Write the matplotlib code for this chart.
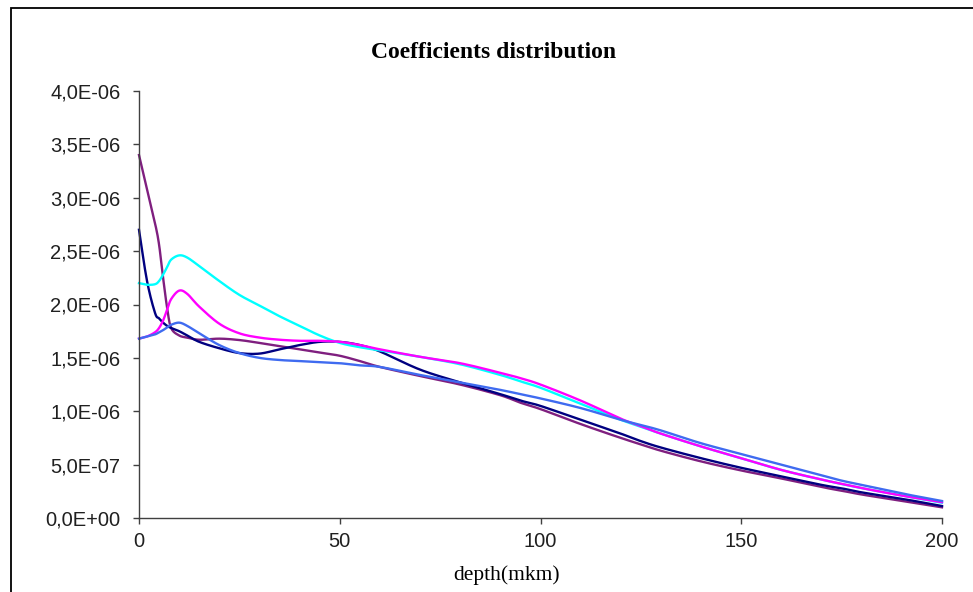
import numpy as np
import matplotlib
matplotlib.use("Agg")
import matplotlib.pyplot as plt
from matplotlib.patches import Rectangle

# depth (mkm) and coefficient values (x1e-6)
depth = [0, 2, 4, 5, 6, 7, 8, 10, 12, 15, 20, 25, 30, 35, 40, 45, 50, 55, 60, 70, 80,
         90, 95, 100, 110, 120, 125, 130, 140, 150, 160, 170, 175, 180, 190, 200]

purple = [3.40, 3.08, 2.76, 2.56, 2.25, 1.97, 1.78, 1.71, 1.69, 1.67, 1.68, 1.667,
          1.64, 1.61, 1.58, 1.55, 1.52, 1.47, 1.415, 1.33, 1.25, 1.15, 1.08, 1.02,
          0.88, 0.75, 0.69, 0.63, 0.53, 0.445, 0.37, 0.29, 0.256, 0.22, 0.16, 0.10]
navy = [2.70, 2.22, 1.92, 1.87, 1.83, 1.80, 1.78, 1.75, 1.71, 1.65, 1.59, 1.545,
        1.54, 1.58, 1.62, 1.65, 1.65, 1.62, 1.56, 1.39, 1.27, 1.16, 1.10, 1.05,
        0.92, 0.79, 0.72, 0.66, 0.56, 0.47, 0.39, 0.31, 0.278, 0.24, 0.18, 0.112]
cyan = [2.20, 2.185, 2.19, 2.22, 2.28, 2.35, 2.42, 2.46, 2.44, 2.36, 2.22, 2.09,
        1.99, 1.89, 1.80, 1.71, 1.64, 1.60, 1.57, 1.51, 1.44, 1.34, 1.28, 1.22,
        1.07, 0.92, 0.855, 0.79, 0.67, 0.56, 0.45, 0.36, 0.318, 0.28, 0.21, 0.143]
magenta = [1.68, 1.70, 1.74, 1.78, 1.85, 1.95, 2.05, 2.13, 2.10, 1.98, 1.82, 1.73,
           1.69, 1.67, 1.66, 1.66, 1.65, 1.62, 1.58, 1.51, 1.45, 1.36, 1.31, 1.25,
           1.10, 0.93, 0.86, 0.79, 0.67, 0.56, 0.45, 0.36, 0.32, 0.28, 0.21, 0.148]
blue = [1.68, 1.70, 1.72, 1.74, 1.76, 1.785, 1.81, 1.83, 1.80, 1.73, 1.62, 1.545,
        1.50, 1.48, 1.47, 1.46, 1.45, 1.43, 1.415, 1.34, 1.27, 1.20, 1.16, 1.12,
        1.03, 0.92, 0.871, 0.82, 0.70, 0.60, 0.50, 0.40, 0.35, 0.31, 0.23, 0.159]

series = [(purple, "#7F1F7F"), (navy, "#000080"), (cyan, "#00FFFF"),
          (magenta, "#FF00FF"), (blue, "#3F6BF0")]

yticks = np.arange(0, 4.01e-6, 0.5e-6)
ytick_labels = ["0,0E+00", "5,0E-07", "1,0E-06", "1,5E-06", "2,0E-06",
                "2,5E-06", "3,0E-06", "3,5E-06", "4,0E-06"]


def smooth(xs, ys, n=12):
    # Catmull-Rom curve through the points, like Excel's "smoothed line"
    xs, ys = np.asarray(xs, float), np.asarray(ys, float)
    px = np.concatenate([[2*xs[0]-xs[1]], xs, [2*xs[-1]-xs[-2]]])
    py = np.concatenate([[2*ys[0]-ys[1]], ys, [2*ys[-1]-ys[-2]]])
    t = np.linspace(0, 1, n, endpoint=False)[:, None]
    out_x, out_y = [], []
    for i in range(1, len(px)-2):
        for p, out in ((px, out_x), (py, out_y)):
            p0, p1, p2, p3 = p[i-1], p[i], p[i+1], p[i+2]
            seg = 0.5*((2*p1) + (-p0+p2)*t + (2*p0-5*p1+4*p2-p3)*t**2
                       + (-p0+3*p1-3*p2+p3)*t**3)
            out.extend(seg.ravel())
    out_x.append(xs[-1]); out_y.append(ys[-1])
    return np.array(out_x), np.array(out_y)


fig = plt.figure(figsize=(9.73, 5.92), dpi=100)
ax = fig.add_axes([139/973, 1-518/592, (942-139)/973, (518-91)/592])

for vals, c in series:
    sx, sy = smooth(depth, vals)
    ax.plot(sx, sy*1e-6, color=c, lw=1.7, solid_joinstyle="round", clip_on=False)

ax.set_xlim(0, 200)
ax.set_ylim(0, 4e-6)
ax.set_xticks([0, 50, 100, 150, 200])
ax.set_yticks(yticks)
ax.set_yticklabels(ytick_labels)
for s in ["top", "right"]:
    ax.spines[s].set_visible(False)
for s in ["left", "bottom"]:
    ax.spines[s].set_color("#404040")
    ax.spines[s].set_linewidth(1.0)
ax.tick_params(axis="both", direction="out", length=4.3, width=1.0, color="#404040",
               labelsize=14.5)
ax.tick_params(axis="y", pad=9)
ax.tick_params(axis="x", pad=6)
for lab in ax.get_xticklabels() + ax.get_yticklabels():
    lab.set_family(["Liberation Sans", "DejaVu Sans"])
    lab.set_color("#202020")

fig.text(494/973, 1-52/592, "Coefficients distribution", ha="center", va="center",
         fontsize=17, fontweight="bold", family=["Liberation Serif", "DejaVu Serif"])
fig.text(507/973, 1-575/592, "depth(mkm)", ha="center", va="center",
         fontsize=15.5, family=["Liberation Serif", "DejaVu Serif"])

# outer chart frame (cut off at right and bottom in the reference)
fig.patches.append(Rectangle((11/973, -0.1), 1.2, 1-8/592+0.1, transform=fig.transFigure,
                             fill=False, edgecolor="black", lw=1.3))

fig.savefig("out.png", dpi=100)
